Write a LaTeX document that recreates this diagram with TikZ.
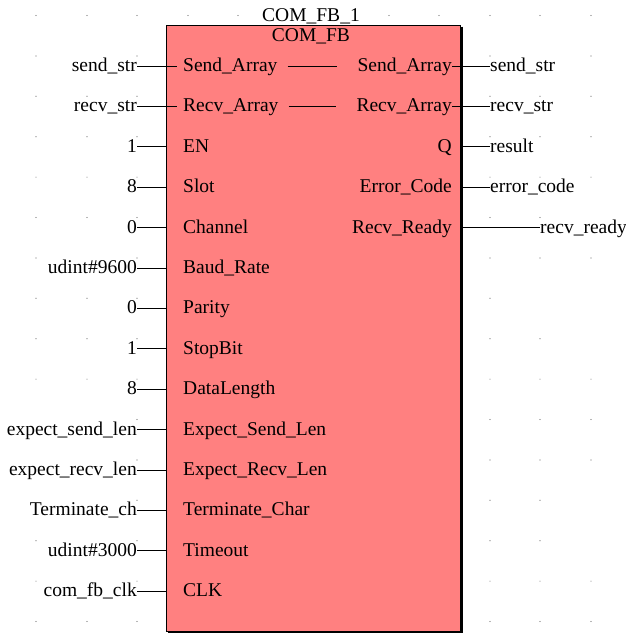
\documentclass[tikz,border=0pt]{standalone}
\usepackage{fontspec}
\setmainfont{Liberation Serif}
\usetikzlibrary{calc}

\definecolor{fbfill}{RGB}{255,128,128}
\definecolor{gridgray}{RGB}{110,110,110}

\tikzset{
  lbl/.style={inner sep=0pt, text height=14pt, text depth=3pt,
    font=\fontsize{19.5}{20}\selectfont},
  fbbox/.style={draw=black, fill=fbfill, line width=1pt, inner sep=0pt,
    minimum width=294pt, minimum height=606pt},
  wire/.style={line width=0.9pt}
}

\begin{document}
\begin{tikzpicture}[x=1pt, y=-1pt]
  \useasboundingbox (0,0) rectangle (626,633);
  % grid dots
  \foreach \k/\xs in {0/{36,87,137,188,238,389,439,490,540,591},
      1/{36,137,490,591}, 2/{36,87,137,490,540,591}, 3/{36,87,137,490,540,591},
      4/{36,87,137,490,540,591}, 5/{36,87,137,490,540}, 6/{36,137,490,540,591},
      7/{36,87,137,490}, 8/{36,87,137,490,540}, 9/{36,87,137,490,540,591},
      10/{137,490,540,591}, 11/{137,490,540,591}, 12/{137,490,540},
      13/{36,137,490,540}, 14/{36,137,490,540,591}, 15/{36,87,137,490,540,591}}
    \foreach \x in \xs
      \fill[gridgray] (\x,15.5+40.4*\k) circle (0.6);
  % block
  \node[fbbox] (fb) at (313,328) {};
  \draw[line width=2pt] ($(fb.north east)+(1.5,2)$) -- ($(fb.south east)+(1.5,1.5)$)
    -- ($(fb.south west)+(2,1.5)$);
  \node[lbl] (inst) at (311,15.5) {COM\_FB\_1};
  \node[lbl] (type) at (311,35.5) {COM\_FB};
  % inputs
  \foreach \i/\ext/\pin in {0/send\_str/Send\_Array, 1/recv\_str/Recv\_Array,
      2/1/EN, 3/8/Slot, 4/0/Channel, 5/udint\#9600/Baud\_Rate, 6/0/Parity,
      7/1/StopBit, 8/8/DataLength, 9/expect\_send\_len/Expect\_Send\_Len,
      10/expect\_recv\_len/Expect\_Recv\_Len, 11/Terminate\_ch/Terminate\_Char,
      12/udint\#3000/Timeout, 13/com\_fb\_clk/CLK} {
    \node[lbl, anchor=east] (in\i) at (137,66+40.4*\i) {\ext};
    \node[lbl, anchor=west] (pin\i) at (183,66+40.4*\i) {\pin};
  }
  \foreach \i in {2,...,13}
    \draw[wire] (in\i.east) -- (in\i.east -| fb.west);
  \foreach \i in {0,1}
    \draw[wire] (in\i.east) -- ([xshift=-6pt]pin\i.west);
  % outputs
  \foreach \i/\pin/\ext/\x in {0/Send\_Array/send\_str/490, 1/Recv\_Array/recv\_str/490,
      2/Q/result/490, 3/Error\_Code/error\_code/490, 4/Recv\_Ready/recv\_ready/540} {
    \node[lbl, anchor=east] (pout\i) at (452,66+40.4*\i) {\pin};
    \node[lbl, anchor=west] (out\i) at (\x,66+40.4*\i) {\ext};
  }
  \foreach \i in {0,1} {
    \draw[wire] ([xshift=10pt]pin\i.east) -- ([xshift=-20pt]pout\i.west);
    \draw[wire] (pout\i.east) -- (out\i.west);
  }
  \foreach \i in {2,3,4}
    \draw[wire] (out\i.west -| fb.east) -- (out\i.west);
\end{tikzpicture}
\end{document}
